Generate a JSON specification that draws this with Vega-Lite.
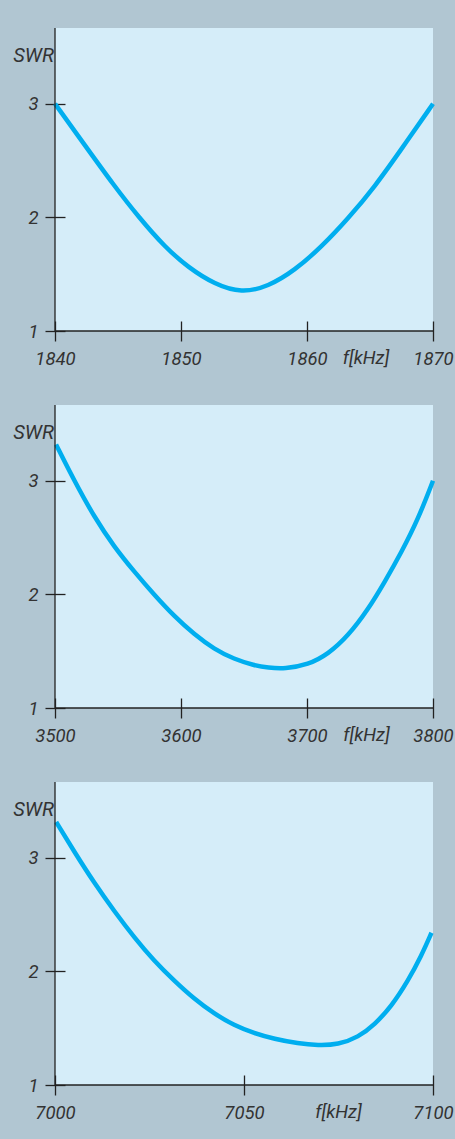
{
  "$schema": "https://vega.github.io/schema/vega-lite/v6.json",
  "background": "#b1c6d2",
  "padding": {"left": 12, "top": 27, "right": 6, "bottom": 20},
  "spacing": 74,
  "bounds": "flush",
  "config": {
    "font": "Roboto",
    "view": {"fill": "#d5edf9", "stroke": null},
    "axis": {
      "grid": false,
      "domain": false,
      "offset": -10,
      "tickSize": 20,
      "tickColor": "#222222",
      "tickWidth": 1.3,
      "format": "d",
      "labelFont": "Roboto",
      "labelFontSize": 18.5,
      "labelFontStyle": "italic",
      "labelColor": "#333333",
      "labelFlush": false,
      "labelOverlap": false,
      "titleFont": "Roboto",
      "titleFontSize": 18.5,
      "titleFontStyle": "italic",
      "titleFontWeight": "normal",
      "titleColor": "#333333"
    },
    "axisX": {"labelPadding": 8, "titleY": 42, "titleBaseline": "alphabetic", "titleAlign": "center", "titleAnchor": null},
    "axisY": {"labelPadding": 7, "titleFontSize": 20, "titleAngle": 0, "titleX": -32, "titleY": 33, "titleAlign": "center", "titleBaseline": "alphabetic", "titleAnchor": null}
  },
  "datasets": {
    "band160": [
      {"f": 1840.0, "swr": 3.0},
      {"f": 1842.1, "swr": 2.677},
      {"f": 1844.76, "swr": 2.268},
      {"f": 1846.66, "swr": 2.0},
      {"f": 1848.72, "swr": 1.739},
      {"f": 1850.57, "swr": 1.56},
      {"f": 1852.69, "swr": 1.41},
      {"f": 1854.8, "swr": 1.335},
      {"f": 1856.91, "swr": 1.39},
      {"f": 1859.03, "swr": 1.534},
      {"f": 1861.14, "swr": 1.739},
      {"f": 1863.26, "swr": 1.989},
      {"f": 1865.38, "swr": 2.27},
      {"f": 1867.49, "swr": 2.6},
      {"f": 1870.0, "swr": 3.0}
    ],
    "band80": [
      {"f": 3500.8, "swr": 3.32},
      {"f": 3515.3, "swr": 3.0},
      {"f": 3531.2, "swr": 2.68},
      {"f": 3547.0, "swr": 2.418},
      {"f": 3562.9, "swr": 2.2},
      {"f": 3578.7, "swr": 1.997},
      {"f": 3594.6, "swr": 1.808},
      {"f": 3610.5, "swr": 1.648},
      {"f": 3626.3, "swr": 1.518},
      {"f": 3642.2, "swr": 1.43},
      {"f": 3658.0, "swr": 1.375},
      {"f": 3669.2, "swr": 1.355},
      {"f": 3682.4, "swr": 1.345},
      {"f": 3700.9, "swr": 1.38},
      {"f": 3716.8, "swr": 1.474},
      {"f": 3732.6, "swr": 1.634},
      {"f": 3748.5, "swr": 1.867},
      {"f": 3761.7, "swr": 2.11},
      {"f": 3774.9, "swr": 2.37},
      {"f": 3788.1, "swr": 2.66},
      {"f": 3800.0, "swr": 3.0}
    ],
    "band40": [
      {"f": 7000.3, "swr": 3.315},
      {"f": 7005.1, "swr": 3.053},
      {"f": 7010.4, "swr": 2.777},
      {"f": 7015.7, "swr": 2.529},
      {"f": 7021.0, "swr": 2.297},
      {"f": 7026.2, "swr": 2.093},
      {"f": 7031.5, "swr": 1.918},
      {"f": 7036.8, "swr": 1.758},
      {"f": 7042.1, "swr": 1.627},
      {"f": 7047.4, "swr": 1.525},
      {"f": 7052.7, "swr": 1.455},
      {"f": 7058.0, "swr": 1.405},
      {"f": 7064.3, "swr": 1.365},
      {"f": 7069.6, "swr": 1.348},
      {"f": 7074.9, "swr": 1.355},
      {"f": 7080.2, "swr": 1.42},
      {"f": 7084.6, "swr": 1.533},
      {"f": 7089.0, "swr": 1.693},
      {"f": 7093.4, "swr": 1.918},
      {"f": 7096.9, "swr": 2.136},
      {"f": 7099.6, "swr": 2.34}
    ]
  },
  "vconcat": [
    {
      "width": 378, "height": 303,
      "layer": [
        {
          "data": {"name": "band160"},
          "mark": {"type": "line", "color": "#00aeef", "strokeWidth": 4.5, "interpolate": "basis"},
          "encoding": {
            "x": {"field": "f", "type": "quantitative", "scale": {"domain": [1840, 1870], "nice": false, "zero": false}, "axis": {"values": [1840, 1850, 1860, 1870], "title": "f[kHz]", "titleX": 310.5}},
            "y": {"field": "swr", "type": "quantitative", "scale": {"domain": [1, 3.667], "nice": false, "zero": false}, "axis": {"values": [1, 2, 3], "title": "SWR"}}
          }
        },
        {"data": {"values": [{"f": 1840}]}, "mark": {"type": "rule", "color": "#222222", "strokeWidth": 1.3}, "encoding": {"x": {"field": "f", "type": "quantitative"}}},
        {"data": {"values": [{"swr": 1}]}, "mark": {"type": "rule", "color": "#222222", "strokeWidth": 1.3}, "encoding": {"y": {"field": "swr", "type": "quantitative"}}}
      ]
    },
    {
      "width": 378, "height": 303,
      "layer": [
        {
          "data": {"name": "band80"},
          "mark": {"type": "line", "color": "#00aeef", "strokeWidth": 4.5, "interpolate": "basis"},
          "encoding": {
            "x": {"field": "f", "type": "quantitative", "scale": {"domain": [3500, 3800], "nice": false, "zero": false}, "axis": {"values": [3500, 3600, 3700, 3800], "title": "f[kHz]", "titleX": 311}},
            "y": {"field": "swr", "type": "quantitative", "scale": {"domain": [1, 3.667], "nice": false, "zero": false}, "axis": {"values": [1, 2, 3], "title": "SWR"}}
          }
        },
        {"data": {"values": [{"f": 3500}]}, "mark": {"type": "rule", "color": "#222222", "strokeWidth": 1.3}, "encoding": {"x": {"field": "f", "type": "quantitative"}}},
        {"data": {"values": [{"swr": 1}]}, "mark": {"type": "rule", "color": "#222222", "strokeWidth": 1.3}, "encoding": {"y": {"field": "swr", "type": "quantitative"}}}
      ]
    },
    {
      "width": 378, "height": 303,
      "layer": [
        {
          "data": {"name": "band40"},
          "mark": {"type": "line", "color": "#00aeef", "strokeWidth": 4.5, "interpolate": "basis"},
          "encoding": {
            "x": {"field": "f", "type": "quantitative", "scale": {"domain": [7000, 7100], "nice": false, "zero": false}, "axis": {"values": [7000, 7050, 7100], "title": "f[kHz]", "titleX": 283}},
            "y": {"field": "swr", "type": "quantitative", "scale": {"domain": [1, 3.667], "nice": false, "zero": false}, "axis": {"values": [1, 2, 3], "title": "SWR"}}
          }
        },
        {"data": {"values": [{"f": 7000}]}, "mark": {"type": "rule", "color": "#222222", "strokeWidth": 1.3}, "encoding": {"x": {"field": "f", "type": "quantitative"}}},
        {"data": {"values": [{"swr": 1}]}, "mark": {"type": "rule", "color": "#222222", "strokeWidth": 1.3}, "encoding": {"y": {"field": "swr", "type": "quantitative"}}}
      ]
    }
  ]
}
